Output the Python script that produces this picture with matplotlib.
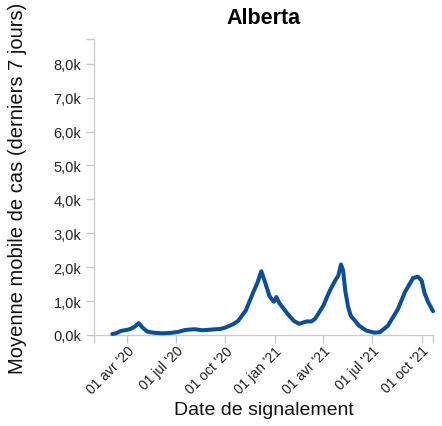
import numpy as np
import pandas as pd
import matplotlib
matplotlib.use("Agg")
import matplotlib.pyplot as plt
from matplotlib.ticker import FuncFormatter
from matplotlib.transforms import ScaledTranslation

# Data (7-day moving average of daily cases)
dates = [
    "2020-03-05", "2020-03-12", "2020-03-21", "2020-04-01", "2020-04-08",
    "2020-04-16", "2020-04-23", "2020-04-30", "2020-05-09", "2020-05-20",
    "2020-06-05", "2020-06-20", "2020-07-05", "2020-07-19", "2020-08-05",
    "2020-08-20", "2020-09-05", "2020-09-22", "2020-10-01", "2020-10-16",
    "2020-10-25", "2020-11-08", "2020-11-23", "2020-11-30", "2020-12-07",
    "2020-12-14", "2020-12-22", "2020-12-30", "2021-01-04", "2021-01-09",
    "2021-01-25", "2021-02-05", "2021-02-15", "2021-03-01", "2021-03-10",
    "2021-03-17", "2021-04-01", "2021-04-13", "2021-04-23", "2021-04-29",
    "2021-05-04", "2021-05-08", "2021-05-12", "2021-05-17", "2021-05-22",
    "2021-06-07", "2021-06-20", "2021-07-05", "2021-07-15", "2021-07-30",
    "2021-08-18", "2021-08-31", "2021-09-15", "2021-09-24", "2021-10-01",
    "2021-10-06", "2021-10-13", "2021-10-22",
]
cases = [
    30, 50, 120, 150, 180,
    250, 350, 220, 100, 70,
    50, 60, 90, 150, 170,
    140, 160, 180, 220, 320,
    420, 720, 1300, 1550, 1880,
    1550, 1150, 980, 1120, 950,
    620, 420, 330, 400, 400,
    480, 860, 1300, 1600, 1750,
    2080, 1900, 1300, 850, 570,
    270, 130, 70, 80, 270,
    770, 1270, 1680, 1720, 1600,
    1250, 970, 700,
]

tick_dates = ["2020-04-01", "2020-07-01", "2020-10-01", "2021-01-01",
              "2021-04-01", "2021-07-01", "2021-10-01"]
tick_labels = ["01 avr '20", "01 jul '20", "01 oct '20", "01 jan '21",
               "01 avr '21", "01 jul '21", "01 oct '21"]
y_ticks = [0, 1000, 2000, 3000, 4000, 5000, 6000, 7000, 8000]

X_START, X_END = pd.Timestamp("2020-01-31"), pd.Timestamp("2021-10-22")
Y_TOP = 8730

plt.rcParams['font.family'] = 'sans-serif'
plt.rcParams['font.sans-serif'] = ['Liberation Sans']

fig = plt.figure(figsize=(4.42, 4.27), dpi=100)
ax = fig.add_axes([94 / 442, 1 - 336 / 427, 339 / 442, 296 / 427])

x = pd.to_datetime(dates)
ax.plot(x, cases, color="#0b4f9c", linewidth=2.9, solid_joinstyle="round",
        solid_capstyle="round", clip_on=False, zorder=3)

ax.set_xlim(X_START, X_END)
ax.set_ylim(0, Y_TOP)

ax.set_xticks(pd.to_datetime(tick_dates), tick_labels, rotation=45,
              ha="right", va="top", rotation_mode="anchor", fontsize=10)
ax.set_xticks([X_START, X_END], minor=True)
ax.set_yticks(y_ticks)
ax.set_yticks([Y_TOP], minor=True)
ax.yaxis.set_major_formatter(FuncFormatter(lambda v, p: f"{v/1000:.1f}k".replace(".", ",")))

shift = ScaledTranslation(0.035, 0.01, fig.dpi_scale_trans)
for lbl in ax.get_xticklabels():
    lbl.set_transform(lbl.get_transform() + shift)

for side in ["top", "right"]:
    ax.spines[side].set_visible(False)
for side in ["left", "bottom"]:
    ax.spines[side].set_color("#cccccc")
    ax.spines[side].set_linewidth(1.0)
ax.tick_params(axis="both", which="both", colors="#c8c8c8", length=6,
               width=1.0, labelcolor="#222222")
ax.tick_params(axis="y", labelsize=10.5, pad=3)
ax.tick_params(axis="x", pad=0)

ax.set_xlabel("Date de signalement", fontsize=14, color="#111111", va="center")
ax.xaxis.set_label_coords(0.5, (336 - 411) / 296)
ax.set_ylabel("Moyenne mobile de cas (derniers 7 jours)", fontsize=14.5,
              color="#111111", va="center")
ax.yaxis.set_label_coords((18 - 94) / 339, 0.5)
ax.set_title("Alberta", fontsize=15.5, fontweight="bold", y=(336 - 18) / 296,
             va="center", pad=0)

fig.savefig("out.png", dpi=100)
